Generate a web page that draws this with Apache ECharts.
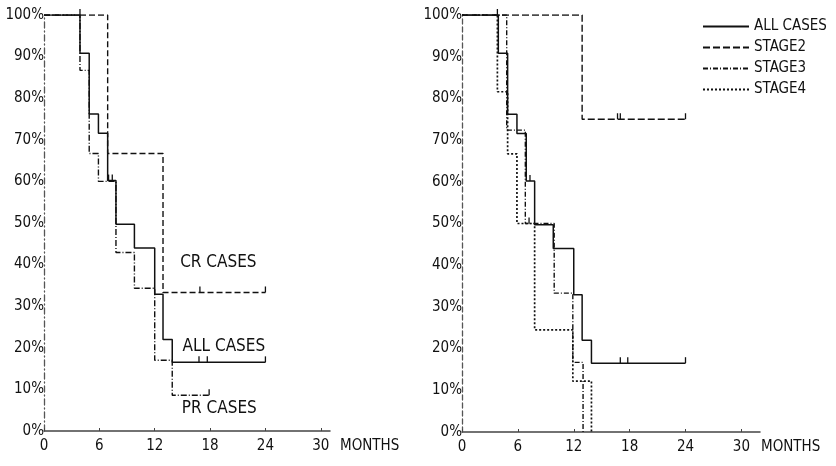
<!DOCTYPE html>
<html>
<head>
<meta charset="utf-8">
<script src="https://cdn.jsdelivr.net/npm/echarts@6/dist/echarts.min.js"></script>
<style>
  html, body { margin: 0; padding: 0; background: #fff; }
  #chart { width: 836px; height: 466px; }
</style>
</head>
<body>
<div id="chart"></div>
<script>
// months axis ticks
const monthTicks = [0, 6, 12, 18, 24, 30];

// left panel: survival by response (time in months, survival %)
const allTimes = [0, 3.9, 4.9, 5.9, 6.9, 7.8, 9.8, 12.0, 12.9, 13.9, 24];
const allSurv  = [100, 90.8, 76.2, 71.6, 60.2, 49.7, 44.0, 32.9, 22.0, 16.5, 16.5];
const crTimes  = [0, 6.9, 12.9, 24];
const crSurv   = [100, 66.7, 33.3, 33.3];
const prTimes  = [0, 3.9, 4.9, 5.9, 7.8, 9.8, 12.0, 13.9, 17.9];
const prSurv   = [100, 86.7, 66.7, 60.0, 42.9, 34.3, 17.0, 8.6, 8.6];

// right panel: survival by stage
const st2Times = [0, 12.9, 24];
const st2Surv  = [100, 75, 75];
const st3Times = [0, 4.8, 6.8, 9.9, 11.9, 13.0];
const st3Surv  = [100, 72.4, 50.0, 33.3, 16.7, 0];
const st4Times = [0, 3.8, 4.9, 5.9, 7.8, 11.9, 13.9];
const st4Surv  = [100, 81.6, 66.7, 50.0, 24.5, 12.2, 0];

// censored observations [month, survival]
const censorLeft  = [[3.9, 100], [7.0, 60.2], [7.4, 60.2], [16.9, 33.3], [24, 33.3],
                     [16.8, 16.5], [17.7, 16.5], [24, 16.5], [17.9, 8.6]];
const censorRight = [[3.8, 100], [7.3, 60.2], [7.2, 50.0], [16.7, 75], [17.0, 75], [24, 75],
                     [17.0, 16.5], [17.8, 16.5], [24, 16.5]];

// curve captions on the left panel [text, month, survival]
const captions = [['CR CASES', 18.9, 40.6], ['ALL CASES', 19.5, 20.2], ['PR CASES', 19.0, 5.3]];

const FONT = '"DejaVu Sans Condensed", "DejaVu Sans", sans-serif';
const INK = '#111';

function pairs(t, s) {
  return t.map((v, i) => [v, s[i]]);
}

function xAxisFor(grid, max, nameGap) {
  return {
    type: 'value', gridIndex: grid, min: 0, max: max,
    name: 'MONTHS', nameLocation: 'end', nameGap: nameGap,
    nameTextStyle: { fontFamily: FONT, fontSize: 15, color: INK, verticalAlign: 'top', padding: [8, 0, 0, 0] },
    splitLine: { show: false },
    axisLine: { lineStyle: { color: '#444', width: 1.5 } },
    axisTick: { inside: true, length: 3, customValues: monthTicks, lineStyle: { color: '#444' } },
    axisLabel: { customValues: monthTicks, margin: 8, fontFamily: FONT, fontSize: 15, color: INK }
  };
}

function yAxisFor(grid, dash) {
  return {
    type: 'value', gridIndex: grid, min: 0, max: 100, interval: 10,
    splitLine: { show: false },
    axisLine: { show: true, lineStyle: { color: '#555', width: 1.3, type: dash } },
    axisTick: { show: false },
    axisLabel: { margin: 0, formatter: '{value}%', fontFamily: FONT, fontSize: 15, color: INK }
  };
}

function stepLine(name, grid, t, s, type, width) {
  return {
    name: name, type: 'line', step: 'end',
    xAxisIndex: grid, yAxisIndex: grid,
    data: pairs(t, s),
    symbol: 'none', silent: true,
    lineStyle: { color: INK, width: width, type: type },
    itemStyle: { color: INK }
  };
}

const chart = echarts.init(document.getElementById('chart'));

chart.setOption({
  backgroundColor: '#fff',
  animation: false,
  grid: [
    { left: 44, top: 15, width: 286, height: 416, outerBoundsMode: 'none' },
    { left: 462, top: 15, width: 298, height: 417, outerBoundsMode: 'none' }
  ],
  xAxis: [xAxisFor(0, 31, 10), xAxisFor(1, 32, 1)],
  yAxis: [yAxisFor(0, [6, 3, 1, 3]), yAxisFor(1, [5, 3])],
  legend: {
    data: ['ALL CASES', 'STAGE2', 'STAGE3', 'STAGE4'],
    orient: 'vertical', left: 697, top: 14,
    itemWidth: 46, itemHeight: 14, itemGap: 6,
    itemStyle: { opacity: 0 },
    textStyle: { fontFamily: FONT, fontSize: 15, color: INK }
  },
  series: [
    stepLine('ALL', 0, allTimes, allSurv, 'solid', 1.5),
    stepLine('CR', 0, crTimes, crSurv, [6, 3], 1.4),
    stepLine('PR', 0, prTimes, prSurv, [6, 2, 1, 2], 1.4),
    stepLine('ALL CASES', 1, allTimes, allSurv, 'solid', 1.5),
    stepLine('STAGE2', 1, st2Times, st2Surv, [7, 3], 1.4),
    stepLine('STAGE3', 1, st3Times, st3Surv, [5, 2, 1, 2], 1.4),
    stepLine('STAGE4', 1, st4Times, st4Surv, [2, 2], 1.7),
    {
      name: 'censorL', type: 'scatter', xAxisIndex: 0, yAxisIndex: 0, silent: true,
      data: censorLeft, symbol: 'rect', symbolSize: [1.3, 6], symbolOffset: [0, -3],
      itemStyle: { color: INK, opacity: 1 }
    },
    {
      name: 'censorR', type: 'scatter', xAxisIndex: 1, yAxisIndex: 1, silent: true,
      data: censorRight, symbol: 'rect', symbolSize: [1.3, 6], symbolOffset: [0, -3],
      itemStyle: { color: INK, opacity: 1 }
    },
    {
      name: 'captions', type: 'scatter', xAxisIndex: 0, yAxisIndex: 0, silent: true,
      data: captions.map(c => ({ value: [c[1], c[2]], name: c[0] })),
      symbolSize: 0, itemStyle: { opacity: 1 },
      label: {
        show: true, position: 'inside', formatter: p => p.name, opacity: 1,
        fontFamily: FONT, fontSize: 17, color: INK
      }
    }
  ]
});
</script>
</body>
</html>
